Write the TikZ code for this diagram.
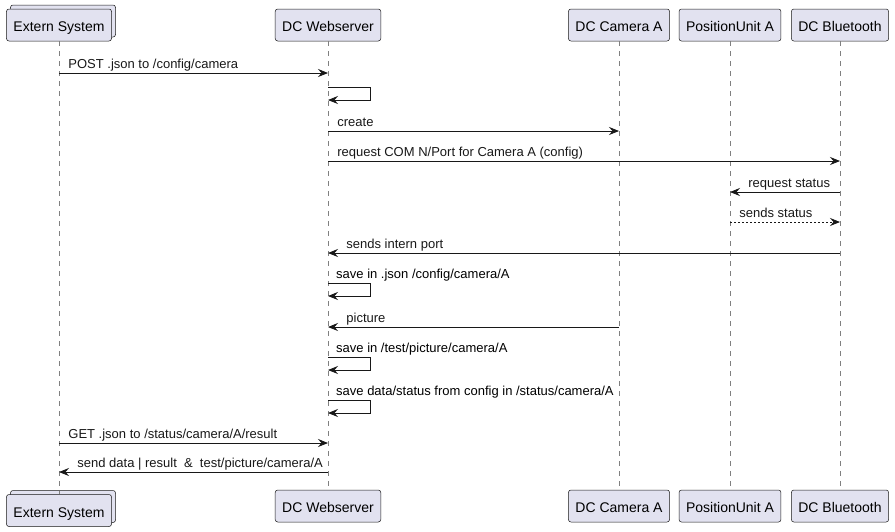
\documentclass[tikz,border=0pt]{standalone}
\usepackage{fontspec}
\setmainfont{Liberation Sans}
\usetikzlibrary{arrows.meta, positioning, calc, shadows}
\definecolor{partfill}{HTML}{E2E2F0}
\definecolor{umlline}{HTML}{181818}
\tikzset{
    partbox/.style={draw=umlline, fill=partfill, rounded corners=2.5pt, line width=0.5pt,
        minimum height=32pt, inner xsep=7pt, text height=14pt, text depth=1pt,
        font=\fontsize{14}{16}\selectfont},
    collbox/.style={partbox, general shadow={draw=umlline, fill=partfill, line width=0.5pt,
        shadow xshift=4pt, shadow yshift=4pt}},
    lifeline/.style={umlline!55, dash pattern=on 5pt off 5pt, line width=0.6pt},
    msg/.style={umlline, line width=0.8pt, -{Stealth[length=10pt, width=8pt, inset=3.5pt]}},
    reply/.style={msg, dash pattern=on 2pt off 2pt},
    msglabel/.style={font=\fontsize{13}{15}\selectfont, inner sep=0pt, anchor=base west}
}

\begin{document}
\begin{tikzpicture}[x=1pt, y=-1pt]
    \useasboundingbox (0,0) rectangle (895,531);

    % Partecipanti (sopra)
    \node[collbox] (ext) at (59,25) {Extern System};
    \node[partbox] (web) at (328,25) {DC Webserver};
    \node[partbox] (cam) at (619,25) {DC Camera A};
    \node[partbox] (pos) at (730,25) {PositionUnit A};
    \node[partbox] (bt)  at (840,25) {DC Bluetooth};

    % Partecipanti (sotto)
    \node[collbox] (extB) at (59,510.5) {Extern System};
    \node[partbox] (webB) at (328,506) {DC Webserver};
    \node[partbox] (camB) at (619,506) {DC Camera A};
    \node[partbox] (posB) at (730,506) {PositionUnit A};
    \node[partbox] (btB)  at (840,506) {DC Bluetooth};

    % Linee di vita
    \foreach \p in {ext, web, cam, pos, bt}
        \draw[lifeline] (\p.south) -- (\p B.north);

    % Messaggi da sinistra a destra
    \foreach \y/\a/\b/\t in {73/ext/web/{POST .json to /config/camera},
                             131/web/cam/{create},
                             161/web/bt/{request COM N/Port for Camera A (config)},
                             443/ext/web/{GET .json to /status/camera/A/result}}
        \draw[msg] (\a |- 0,\y) -- (\b |- 0,\y)
            node[msglabel, pos=0, xshift=9pt, yshift=5pt] {\t};

    % Risposta tratteggiata
    \draw[reply] (pos |- 0,222) -- (bt |- 0,222)
        node[msglabel, pos=0, xshift=9pt, yshift=5pt] {sends status};

    % Messaggi da destra a sinistra
    \foreach \y/\a/\b/\t in {192/bt/pos/{request status},
                             253/bt/web/{sends intern port},
                             327/cam/web/{picture},
                             472/web/ext/{send data | result\ \ \&\ \ test/picture/camera/A}}
        \draw[msg] (\a |- 0,\y) -- (\b |- 0,\y)
            node[msglabel, pos=1, xshift=18pt, yshift=5pt] {\t};

    % Messaggi a se stesso (webserver)
    \foreach \y/\t in {87/{},
                       283/{save in .json /config/camera/A},
                       357/{save in /test/picture/camera/A},
                       400/{save data/status from config in /status/camera/A}}{
        \draw[msg] (web |- 0,\y) -- ++(42,0) -- ++(0,13) -- (web |- 0,\y+13);
        \node[msglabel] (lbl) at ($(web |- 0,\y)+(8,-5)$) {\t};
    }
\end{tikzpicture}
\end{document}
